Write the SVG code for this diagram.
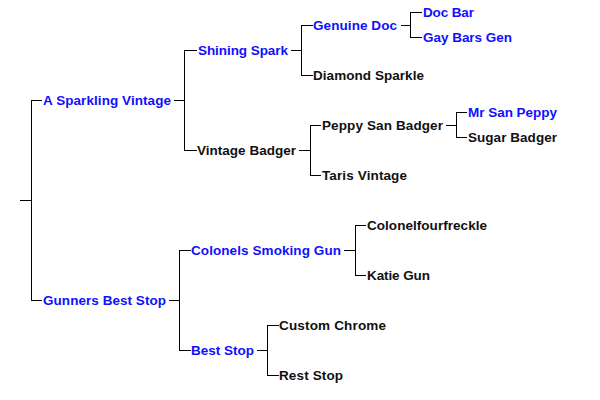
<svg xmlns="http://www.w3.org/2000/svg" width="600" height="400" viewBox="0 0 600 400">
<style>
text{font-family:"Liberation Sans",Arial,sans-serif;font-weight:bold;font-size:13.5px;}
.b{fill:#1010ff;}
.k{fill:#111;}
.c path{fill:none;stroke:#000;stroke-width:1;}
</style>
<rect width="600" height="400" fill="#fff"/>
<g class="c" id="connectors">
<path d="M20,200.5H31.5M31.5,100V300.5M31,100.5H42M31,300.5H42"/>
<path d="M174,100.5H184.5M184.5,50V150.5M184,50.5H197M184,150.5H197"/>
<path d="M291,50.5H301.5M301.5,25V75.5M301,25.5H313M301,75.5H313"/>
<path d="M401,25.5H410.5M410.5,12V37.5M410,12.5H422M410,37.5H422"/>
<path d="M299,150.5H310.5M310.5,125V175.5M310,125.5H321M310,175.5H321"/>
<path d="M446,125.5H456.5M456.5,112V137.5M456,112.5H467M456,137.5H467"/>
<path d="M169,300.5H179.5M179.5,250V350.5M179,250.5H191M179,350.5H191"/>
<path d="M344,250.5H355.5M355.5,225V275.5M355,225.5H366M355,275.5H366"/>
<path d="M257,350.5H267.5M267.5,325V375.5M267,325.5H279M267,375.5H279"/>
</g>
<g id="n-a-sparkling-vintage"><text class="b" x="43" y="104.5" textLength="128" lengthAdjust="spacing">A Sparkling Vintage</text></g>
<g id="n-shining-spark"><text class="b" x="198" y="54.5" textLength="90" lengthAdjust="spacing">Shining Spark</text></g>
<g id="n-genuine-doc"><text class="b" x="313" y="29.5" textLength="84" lengthAdjust="spacing">Genuine Doc</text></g>
<g id="n-doc-bar"><text class="b" x="423" y="16.5" textLength="51" lengthAdjust="spacing">Doc Bar</text></g>
<g id="n-gay-bars-gen"><text class="b" x="423" y="41.5" textLength="89" lengthAdjust="spacing">Gay Bars Gen</text></g>
<g id="n-diamond-sparkle"><text class="k" x="313" y="79.5" textLength="111" lengthAdjust="spacing">Diamond Sparkle</text></g>
<g id="n-vintage-badger"><text class="k" x="197" y="154.5" textLength="99" lengthAdjust="spacing">Vintage Badger</text></g>
<g id="n-peppy-san-badger"><text class="k" x="322" y="129.5" textLength="121" lengthAdjust="spacing">Peppy San Badger</text></g>
<g id="n-mr-san-peppy"><text class="b" x="468" y="116.5" textLength="89" lengthAdjust="spacing">Mr San Peppy</text></g>
<g id="n-sugar-badger"><text class="k" x="468" y="141.5" textLength="89" lengthAdjust="spacing">Sugar Badger</text></g>
<g id="n-taris-vintage"><text class="k" x="322" y="179.5" textLength="85" lengthAdjust="spacing">Taris Vintage</text></g>
<g id="n-gunners-best-stop"><text class="b" x="43" y="304.5" textLength="123" lengthAdjust="spacing">Gunners Best Stop</text></g>
<g id="n-colonels-smoking-gun"><text class="b" x="191" y="254.5" textLength="150" lengthAdjust="spacing">Colonels Smoking Gun</text></g>
<g id="n-colonelfourfreckle"><text class="k" x="367" y="229.5" textLength="120" lengthAdjust="spacing">Colonelfourfreckle</text></g>
<g id="n-katie-gun"><text class="k" x="367" y="279.5" textLength="63" lengthAdjust="spacing">Katie Gun</text></g>
<g id="n-best-stop"><text class="b" x="191" y="354.5" textLength="63" lengthAdjust="spacing">Best Stop</text></g>
<g id="n-custom-chrome"><text class="k" x="279" y="329.5" textLength="107" lengthAdjust="spacing">Custom Chrome</text></g>
<g id="n-rest-stop"><text class="k" x="279" y="379.5" textLength="64" lengthAdjust="spacing">Rest Stop</text></g>
</svg>
